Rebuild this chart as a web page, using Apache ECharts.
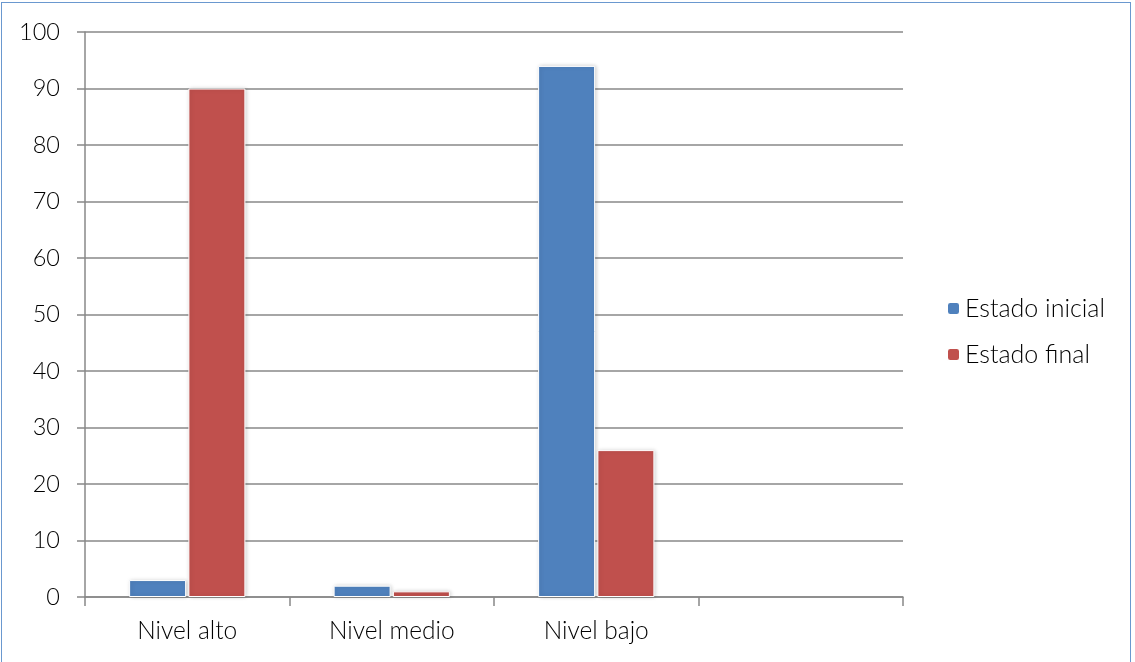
<!DOCTYPE html>
<html>
<head>
<meta charset="utf-8">
<script src="https://cdn.jsdelivr.net/npm/echarts@6/dist/echarts.min.js"></script>
<style>
html,body{margin:0;padding:0;background:#fff;}
#frame{position:absolute;left:1px;top:2px;width:1130px;height:665px;border:1.5px solid #6a98cf;box-sizing:border-box;}
#c{position:absolute;left:0;top:0;width:1135px;height:662px;}
</style>
</head>
<body>
<div id="frame"></div>
<div id="c"></div>
<script>
var categories = ['Nivel alto', 'Nivel medio', 'Nivel bajo', ''];
var estadoInicial = [3, 2, 94, null];
var estadoFinal = [90, 1, 26, null];
var yTicks = [0, 10, 20, 30, 40, 50, 60, 70, 80, 90, 100];

var chart = echarts.init(document.getElementById('c'));
var font = 'Lato, sans-serif';
chart.setOption({
  animation: false,
  textStyle: {fontFamily: font},
  grid: {left: 85, right: 232, top: 32, bottom: 65},
  legend: {
    orient: 'vertical',
    left: 941,
    top: 291,
    itemWidth: 13,
    itemHeight: 13,
    itemGap: 21,
    textStyle: {fontSize: 25, color: '#000', fontWeight: 300, fontFamily: font},
    data: ['Estado inicial', 'Estado final']
  },
  xAxis: {
    type: 'category',
    data: categories,
    axisLine: {lineStyle: {color: '#888', width: 1.5}},
    axisTick: {show: true, length: 9, lineStyle: {color: '#888', width: 1.5}},
    axisLabel: {fontSize: 24.5, color: '#000', fontWeight: 300, margin: 22, fontFamily: font}
  },
  yAxis: {
    type: 'value',
    min: yTicks[0],
    max: yTicks[yTicks.length - 1],
    interval: 10,
    axisLine: {show: true, lineStyle: {color: '#888', width: 1.5}},
    axisTick: {show: true, length: 8, lineStyle: {color: '#888', width: 1.5}},
    splitLine: {lineStyle: {color: '#888', width: 1.5}},
    axisLabel: {fontSize: 23.5, color: '#000', fontWeight: 300, margin: 25, fontFamily: font}
  },
  series: [
    {
      name: 'Estado inicial',
      type: 'bar',
      data: estadoInicial,
      barWidth: 57,
      barGap: '4%',
      itemStyle: {color: '#4f81bd', borderColor: '#fff', borderWidth: 1, shadowColor: 'rgba(0,0,0,0.18)', shadowBlur: 4, shadowOffsetX: 1, shadowOffsetY: 0}
    },
    {
      name: 'Estado final',
      type: 'bar',
      data: estadoFinal,
      barWidth: 57,
      barGap: '4%',
      itemStyle: {color: '#c0504d', borderColor: '#fff', borderWidth: 1, shadowColor: 'rgba(0,0,0,0.18)', shadowBlur: 4, shadowOffsetX: 1, shadowOffsetY: 0}
    }
  ]
});
</script>
</body>
</html>
